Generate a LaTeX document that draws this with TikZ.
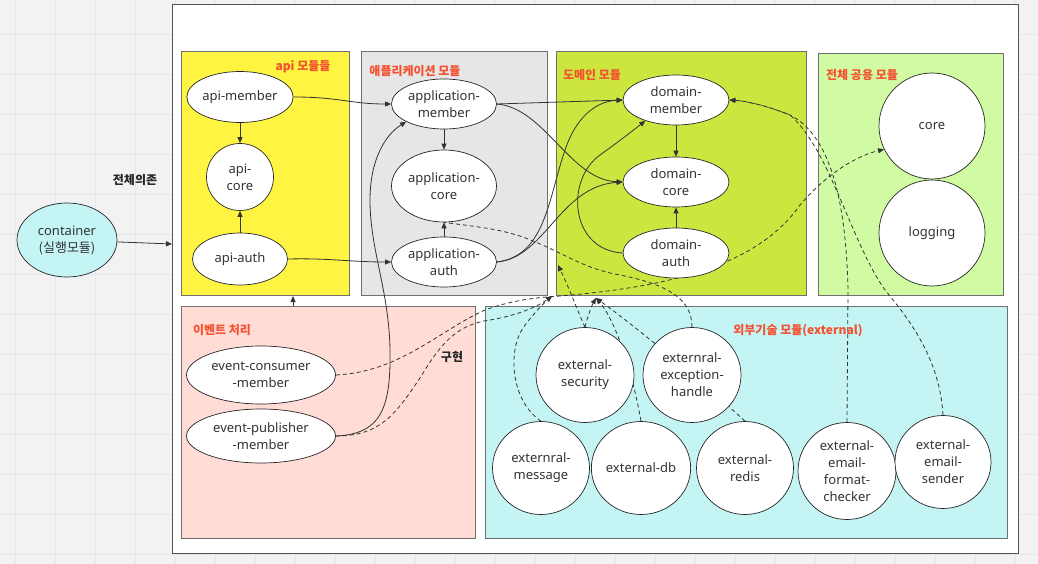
\documentclass[tikz,border=0pt]{standalone}
\usepackage{fontspec}
\setmainfont{Noto Sans}
\newfontfamily\kr{Noto Sans CJK KR}
\usetikzlibrary{shapes.geometric,arrows.meta}
\pgfdeclarelayer{boxes}
\pgfdeclarelayer{edges}
\pgfsetlayers{boxes,edges,main}
\definecolor{bgc}{HTML}{F2F2F2}
\definecolor{gridc}{HTML}{E6E6E6}
\definecolor{frameC}{HTML}{555555}
\definecolor{boxC}{HTML}{707070}
\definecolor{ink}{HTML}{333333}
\definecolor{lblred}{HTML}{F5502F}
\definecolor{apiY}{HTML}{FFF441}
\definecolor{appG}{HTML}{E6E6E6}
\definecolor{domG}{HTML}{CDE63F}
\definecolor{comG}{HTML}{D1FBA3}
\definecolor{evtP}{HTML}{FFDDD6}
\definecolor{extC}{HTML}{C5F4F5}
\begin{document}
\begin{tikzpicture}[x=1pt,y=-1pt,
  nd/.style={ellipse, draw=black!85, line width=0.7pt, fill=white, inner sep=0pt, align=center, font=\fontsize{13}{17}\selectfont, text=black!80},
  box/.style={draw=boxC, line width=1pt, inner sep=0pt, anchor=north west},
  lbl/.style={font=\kr\bfseries\fontsize{12}{14}\selectfont, text=lblred, inner sep=0pt},
  arr/.style={draw=ink, line width=0.8pt, -{Triangle[length=6pt,width=5pt]}},
  ln/.style={draw=ink, line width=0.8pt},
  dsh/.style={arr, dash pattern=on 4pt off 3pt},
  dln/.style={ln, dash pattern=on 4pt off 3pt},
]
\useasboundingbox (0,0) rectangle (1038,564);
\begin{pgfonlayer}{boxes}
\fill[bgc] (0,0) rectangle (1038,564);
\foreach \x in {15,55,...,1035} \draw[gridc, line width=0.8pt] (\x,0) -- (\x,564);
\foreach \y in {34,74,...,554} \draw[gridc, line width=0.8pt] (0,\y) -- (1038,\y);
\node[draw=frameC, line width=1pt, fill=white, inner sep=0pt, anchor=north west, minimum width=846, minimum height=549] (frame) at (172,4) {};
\node[box, fill=apiY, minimum width=168, minimum height=244] (apibox) at (181,51) {};
\node[box, fill=appG, minimum width=186, minimum height=244] (appbox) at (361,51) {};
\node[box, fill=domG, minimum width=250, minimum height=244] (dombox) at (556,51) {};
\node[box, fill=comG, minimum width=185, minimum height=242] (combox) at (818,53) {};
\node[box, fill=evtP, minimum width=294, minimum height=232] (evtbox) at (181,306) {};
\node[box, fill=extC, minimum width=522, minimum height=232] (extbox) at (485,306) {};
\end{pgfonlayer}

% labels
\node[lbl] (l1) at (303,67) {api 모듈들};
\node[lbl] (l2) at (415,71) {애플리케이션 모듈};
\node[lbl] (l3) at (592,75) {도메인 모듈};
\node[lbl] (l4) at (862,75) {전체 공용 모듈};
\node[lbl] (l5) at (222,330) {이벤트 처리};
\node[lbl] (l6) at (798,331) {외부기술 모듈(external)};
\node[font=\kr\bfseries\fontsize{12}{14}\selectfont, text=black!85] (l7) at (135,180) {전체의존};
\node[font=\kr\bfseries\fontsize{12}{14}\selectfont, text=black!85] (l8) at (452,357) {구현};

% nodes
\node[nd, fill=extC, minimum width=100, minimum height=74] (container) at (67,240) {container\\{\kr(실행모듈)}};
\node[nd, minimum width=106, minimum height=51] (api-member) at (240,97) {api-member};
\node[nd, minimum width=67, minimum height=67] (api-core) at (240,177) {api-\\core};
\node[nd, minimum width=95, minimum height=52] (api-auth) at (240,259) {api-auth};
\node[nd, minimum width=105, minimum height=50] (app-member) at (444,104) {application-\\member};
\node[nd, minimum width=105, minimum height=72] (app-core) at (444,186) {application-\\core};
\node[nd, minimum width=105, minimum height=50] (app-auth) at (444,262) {application-\\auth};
\node[nd, minimum width=106, minimum height=50] (dom-member) at (676,100) {domain-\\member};
\node[nd, minimum width=106, minimum height=50] (dom-core) at (676,182) {domain-\\core};
\node[nd, minimum width=106, minimum height=50] (dom-auth) at (676,253) {domain-\\auth};
\node[nd, minimum width=106, minimum height=106] (core) at (932,126) {core};
\node[nd, minimum width=106, minimum height=106] (logging) at (932,233) {logging};
\node[nd, minimum width=149, minimum height=58] (ev-consumer) at (261,375) {event-consumer\\-member};
\node[nd, minimum width=149, minimum height=54] (ev-publisher) at (261,436) {event-publisher\\-member};
\node[nd, minimum width=98, minimum height=95] (ex-security) at (585,375) {external-\\security};
\node[nd, minimum width=98, minimum height=95] (ex-exception) at (692,375) {externral-\\exception-\\handle};
\node[nd, minimum width=97, minimum height=93] (ex-message) at (541,468) {externral-\\message};
\node[nd, minimum width=97, minimum height=93] (ex-db) at (641,468) {external-db};
\node[nd, minimum width=97, minimum height=93] (ex-redis) at (745,468) {external-\\redis};
\node[nd, minimum width=98, minimum height=97] (ex-checker) at (847,471) {external-\\email-\\format-\\checker};
\node[nd, minimum width=96, minimum height=93] (ex-sender) at (943,462) {external-\\email-\\sender};

\coordinate (fin) at (172,244);
\coordinate (evtop) at (293,306);
\coordinate (apibot) at (293,296);
\coordinate (tA) at (552,296);
\coordinate (tB) at (558,265);
\coordinate (tC) at (596,298);

\begin{pgfonlayer}{edges}
% solid
\draw[arr] (container) -- (fin);
\draw[arr] (evtop) -- (apibot);
\draw[arr] (api-member) -- (api-core);
\draw[arr] (api-auth) -- (api-core);
\draw[arr] (api-member.east) .. controls (340,97) and (350,104) .. (app-member.west);
\draw[arr] (api-auth.east) .. controls (330,258) and (350,262) .. (app-auth.west);
\draw[arr] (app-member) -- (app-core);
\draw[arr] (app-auth) -- (app-core);
\draw[arr] (app-member.east) -- (dom-member.west);
\draw[arr] (app-member.east) .. controls (545,108) and (570,180) .. (dom-core.west);
\draw[arr] (app-auth.east) .. controls (545,256) and (548,200) .. (565,150) .. controls (578,112) and (600,101) .. (dom-member.west);
\draw[arr] (app-auth.east) .. controls (545,258) and (560,186) .. (dom-core.west);
\draw[arr] (dom-member) -- (dom-core);
\draw[arr] (dom-auth) -- (dom-core);
\draw[arr] (dom-auth.west) .. controls (570,250) and (565,180) .. (600,155) .. controls (618,142) and (630,133) .. (dom-member.214);
\draw[arr] (ev-publisher.east) .. controls (380,434) and (391,410) .. (390,350) .. controls (389,290) and (370,250) .. (370,200) .. controls (370,160) and (385,135) .. (app-member.205);
% dashed
\draw[dsh] (ev-consumer.east) .. controls (400,372) and (440,330) .. (485,310) .. controls (510,301) and (530,298) .. (560,296) .. controls (680,286) and (760,262) .. (800,205) .. controls (830,170) and (860,155) .. (core.206);
\draw[dsh] (ev-publisher.east) .. controls (380,436) and (395,415) .. (420,378) .. controls (440,345) and (455,325) .. (490,320) .. controls (520,315) and (540,305) .. (tA);
\draw[dsh] (ex-message.north) .. controls (510,400) and (508,350) .. (523,328) .. controls (532,315) and (545,302) .. (tA);
\draw[dsh] (ex-security.north) .. controls (578,312) and (570,290) .. (tB);
\draw[dsh] (ex-security.north) .. controls (588,315) and (592,305) .. (tC);
\draw[dsh] (ex-db.north) .. controls (632,370) and (615,320) .. (tC);
\draw[dsh] (ex-redis.north) .. controls (700,380) and (640,330) .. (tC);
\draw[dln] (ex-exception.north) .. controls (692,300) and (670,285) .. (620,275) .. controls (580,268) and (560,250) .. (520,236) .. controls (495,228) and (470,226) .. (app-core.south);
\draw[dsh] (ex-checker.north) -- (848,290) .. controls (846,200) and (830,135) .. (790,115) .. controls (765,105) and (745,101) .. (dom-member.east);
\draw[dsh] (ex-sender.north) .. controls (940,360) and (910,320) .. (885,290) .. controls (850,240) and (830,150) .. (790,115) .. controls (765,105) and (745,101) .. (dom-member.east);
\end{pgfonlayer}
\end{tikzpicture}
\end{document}
